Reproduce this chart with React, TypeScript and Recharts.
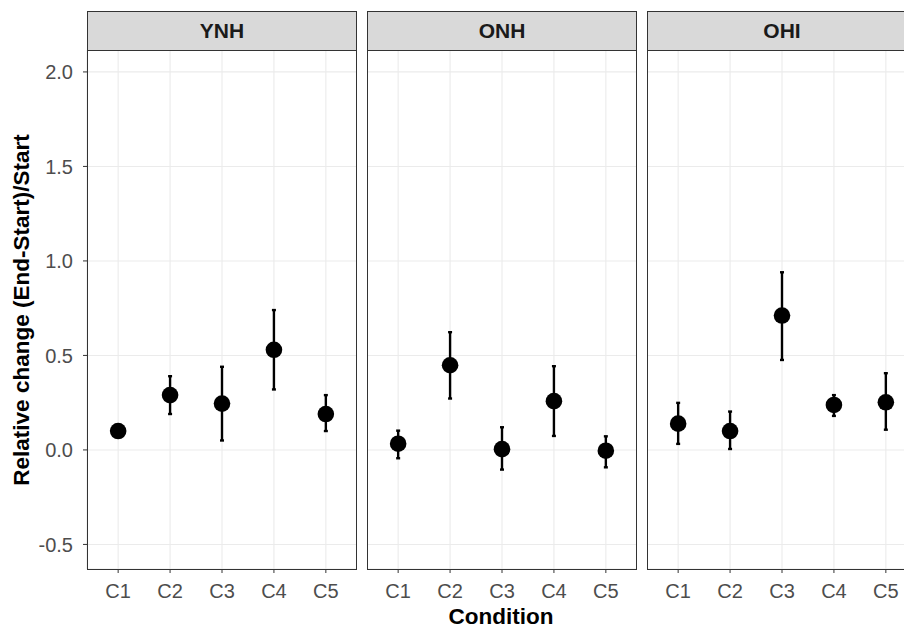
import React from 'react';
import {
  ScatterChart,
  Scatter,
  XAxis,
  YAxis,
  CartesianGrid,
  ErrorBar
} from 'recharts';

const categories = ['C1', 'C2', 'C3', 'C4', 'C5'];
const groups = ['YNH', 'ONH', 'OHI'];

// means and error bar ends, per group, in category order
const ynhMean = [0.10, 0.29, 0.245, 0.53, 0.19];
const ynhLow = [0.08, 0.19, 0.05, 0.32, 0.10];
const ynhHigh = [0.12, 0.39, 0.44, 0.74, 0.29];

const onhMean = [0.033, 0.448, 0.004, 0.258, -0.004];
const onhLow = [-0.044, 0.272, -0.104, 0.074, -0.092];
const onhHigh = [0.102, 0.623, 0.12, 0.443, 0.072];

const ohiMean = [0.139, 0.10, 0.711, 0.238, 0.252];
const ohiLow = [0.032, 0.005, 0.476, 0.18, 0.107];
const ohiHigh = [0.249, 0.203, 0.94, 0.29, 0.406];

const yTicks = [-0.5, 0, 0.5, 1.0, 1.5, 2.0];
const yDomain = [-0.63, 2.116];

const FONT = '"Liberation Sans", Arial, sans-serif';
const PANEL_LEFT = [87, 367, 647];
const PANEL_W = 270;
const PLOT_TOP = 50;
const PLOT_H = 519;
const AXIS_W = 87;

function buildRows(mean: number[], low: number[], high: number[]) {
  return categories.map((c, i) => ({
    x: i + 1,
    y: mean[i],
    err: [mean[i] - low[i], high[i] - mean[i]]
  }));
}

const panelData = [
  buildRows(ynhMean, ynhLow, ynhHigh),
  buildRows(onhMean, onhLow, onhHigh),
  buildRows(ohiMean, ohiLow, ohiHigh)
];

const Dot = (props: any) => {
  if (props.cx == null || props.cy == null) return null;
  return <circle cx={props.cx} cy={props.cy} r={8.3} fill="#000" />;
};

function Panel({ index }: { index: number }) {
  const first = index === 0;
  const width = PANEL_W + (first ? AXIS_W : 0);
  const left = PANEL_LEFT[index] - (first ? AXIS_W : 0);
  return (
    <div style={{ position: 'absolute', left, top: PLOT_TOP }}>
      <ScatterChart
        width={width}
        height={PLOT_H + 50}
        margin={{ top: 0, right: 0, bottom: 0, left: 0 }}
      >
        <CartesianGrid stroke="#EBEBEB" strokeWidth={1.1} />
        <XAxis
          type="number"
          dataKey="x"
          domain={[0.4, 5.6]}
          ticks={[1, 2, 3, 4, 5]}
          interval={0}
          allowDataOverflow
          height={50}
          axisLine={false}
          tickLine={{ stroke: '#333333' }}
          tickSize={4}
          tickMargin={11}
          tick={{ fill: '#4D4D4D', fontSize: 20, fontFamily: FONT }}
          tickFormatter={(v: number) => categories[v - 1]}
        />
        <YAxis
          type="number"
          dataKey="y"
          domain={yDomain}
          ticks={yTicks}
          interval={0}
          allowDataOverflow
          hide={!first}
          width={AXIS_W}
          axisLine={false}
          tickLine={{ stroke: '#333333' }}
          tickSize={4}
          tickMargin={10}
          tick={{ fill: '#4D4D4D', fontSize: 20, fontFamily: FONT }}
          tickFormatter={(v: number) => v.toFixed(1)}
        />
        <Scatter
          data={panelData[index]}
          shape={Dot}
          isAnimationActive={false}
        >
          <ErrorBar
            dataKey="err"
            direction="y"
            width={2}
            stroke="#000"
            strokeWidth={2.4}
            isAnimationActive={false}
          />
        </Scatter>
      </ScatterChart>
    </div>
  );
}

export default function App() {
  return (
    <div
      style={{
        position: 'absolute',
        left: 0,
        top: 0,
        width: 904,
        height: 628,
        overflow: 'hidden',
        background: '#fff',
        fontFamily: FONT
      }}
    >
      {groups.map((g, i) => (
        <Panel key={g} index={i} />
      ))}
      {groups.map((g, i) => (
        <div
          key={'frame-' + g}
          style={{
            position: 'absolute',
            left: PANEL_LEFT[i],
            top: PLOT_TOP,
            width: PANEL_W,
            height: PLOT_H + 1,
            border: '1.3px solid #333333',
            boxSizing: 'border-box',
            pointerEvents: 'none'
          }}
        />
      ))}
      {groups.map((g, i) => (
        <div
          key={'strip-' + g}
          style={{
            position: 'absolute',
            left: PANEL_LEFT[i],
            top: 11,
            width: PANEL_W,
            height: PLOT_TOP - 11 + 1,
            border: '1.3px solid #333333',
            boxSizing: 'border-box',
            background: '#D9D9D9',
            color: '#1A1A1A',
            fontWeight: 'bold',
            fontSize: 21,
            display: 'flex',
            alignItems: 'center',
            justifyContent: 'center'
          }}
        >
          {g}
        </div>
      ))}
      <div
        style={{
          position: 'absolute',
          left: 351,
          top: 606,
          width: 300,
          height: 21,
          lineHeight: '21px',
          textAlign: 'center',
          fontWeight: 'bold',
          fontSize: 22.5,
          color: '#000'
        }}
      >
        Condition
      </div>
      <div
        style={{
          position: 'absolute',
          left: 22 - 260,
          top: 297,
          width: 520,
          height: 26,
          lineHeight: '26px',
          textAlign: 'center',
          fontWeight: 'bold',
          fontSize: 22.5,
          color: '#000',
          transform: 'rotate(-90deg)'
        }}
      >
        Relative change (End-Start)/Start
      </div>
    </div>
  );
}
